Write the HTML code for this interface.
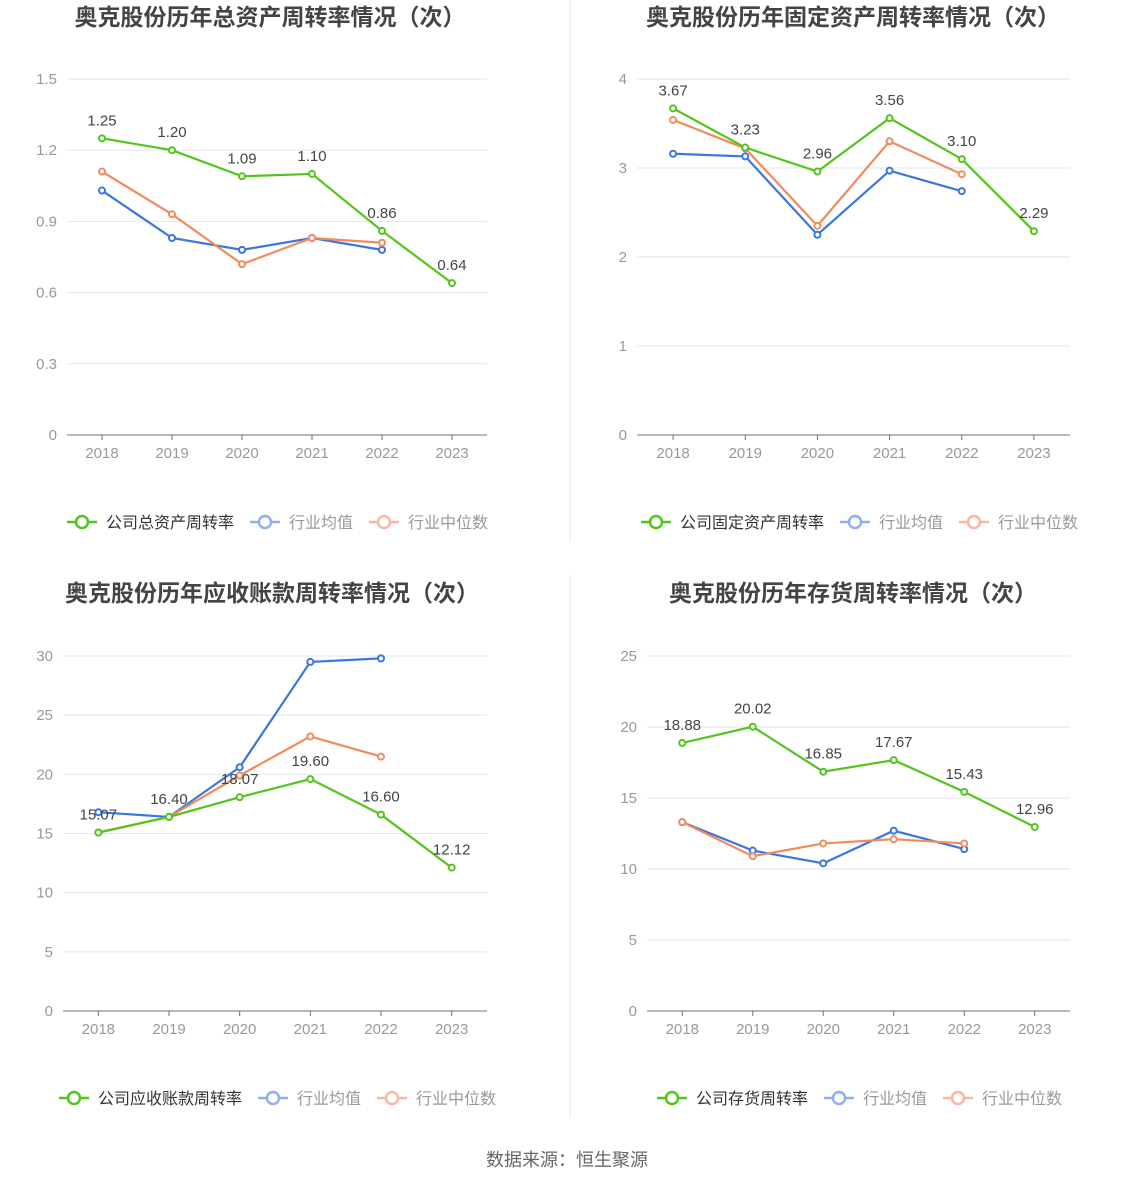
<!DOCTYPE html>
<html><head><meta charset="utf-8"><style>
html,body{margin:0;padding:0;background:#fff;}
svg{display:block;font-family:"Liberation Sans","Noto Sans CJK SC",sans-serif;}
</style></head><body>
<svg id="root" width="1134" height="1188" viewBox="0 0 1134 1188" xmlns="http://www.w3.org/2000/svg">
<line x1="570" y1="0" x2="570" y2="542" stroke="#e8e8e8"/>
<line x1="570" y1="575" x2="570" y2="1118" stroke="#e8e8e8"/>
<text x="567" y="1166" text-anchor="middle" font-size="18" fill="#666">数据来源：恒生聚源</text>
</svg>
<script>
const years = ["2018","2019","2020","2021","2022","2023"];
const c1Company = [1.25,1.20,1.09,1.10,0.86,0.64];
const c1Avg = [1.03,0.83,0.78,0.83,0.78];
const c1Median = [1.11,0.93,0.72,0.83,0.81];
const c1Ticks = [0,0.3,0.6,0.9,1.2,1.5];
const c2Company = [3.67,3.23,2.96,3.56,3.10,2.29];
const c2Avg = [3.16,3.13,2.25,2.97,2.74];
const c2Median = [3.54,3.22,2.35,3.30,2.93];
const c2Ticks = [0,1,2,3,4];
const c3Company = [15.07,16.40,18.07,19.60,16.60,12.12];
const c3Avg = [16.8,16.4,20.6,29.5,29.8];
const c3Median = [15.1,16.4,19.9,23.2,21.5];
const c3Ticks = [0,5,10,15,20,25,30];
const c4Company = [18.88,20.02,16.85,17.67,15.43,12.96];
const c4Avg = [13.3,11.3,10.4,12.7,11.4];
const c4Median = [13.3,10.9,11.8,12.1,11.8];
const c4Ticks = [0,5,10,15,20,25];

const NS="http://www.w3.org/2000/svg";
const root=document.getElementById('root');
function mk(tag,attrs,parent,text){const e=document.createElementNS(NS,tag);for(const k in attrs)e.setAttribute(k,attrs[k]);if(text!==undefined)e.textContent=text;(parent||root).appendChild(e);return e;}
const GREEN="#52c41a",BLUE="#3a76e0",ORANGE="#f28a5c";

function chart(o){
  const g=mk('g',{});
  
  
  const max=o.ticks[o.ticks.length-1];
  const ys=v=>o.y0-(o.y0-o.yTop)*v/max;
  const step=(o.x1-o.x0)/years.length;
  const xs=i=>o.x0+step*(i+0.5);
  const t=mk('text',{x:o.titleX,y:o.titleY,'text-anchor':'middle','font-size':23,'font-weight':'bold',fill:'#444'},g,o.title);
  
  
  o.ticks.forEach(v=>{
    const y=ys(v);
    if(v>0){const gl=mk('line',{x1:o.x0,x2:o.x1,y1:y,y2:y,stroke:'#e0e6f1'},g);
      
      }
    const tl=mk('text',{x:o.x0-10,y:y+5,'text-anchor':'end','font-size':15,fill:'#999'},g,String(v));
    
    
  });
  const ax=mk('line',{x1:o.x0,x2:o.x1,y1:o.y0,y2:o.y0,stroke:'#6e7079'},g);
  
  
  years.forEach((yr,i)=>{
    const tk=mk('line',{x1:xs(i),x2:xs(i),y1:o.y0,y2:o.y0+5,stroke:'#6e7079'},g);
    
    
    const xl=mk('text',{x:xs(i),y:o.y0+23,'text-anchor':'middle','font-size':15,fill:'#999'},g,yr);
    
    
  });
  function series(vals,color,nm,labels){
    const pts=vals.map((v,i)=>xs(i)+','+ys(v)).join(' ');
    const pl=mk('polyline',{points:pts,fill:'none',stroke:color,'stroke-width':2.2},g);
    
    
    vals.forEach((v,i)=>{
      const c=mk('circle',{cx:xs(i),cy:ys(v),r:3,fill:'#fff',stroke:color,'stroke-width':2},g);
      
      
      if(labels){const l=mk('text',{x:xs(i),y:ys(v)-13,'text-anchor':'middle','font-size':15,fill:'#444'},g,v.toFixed(2));
        
        }
    });
  }
  series(o.avg,BLUE,'industry-average',false);
  series(o.median,ORANGE,'industry-median',false);
  series(o.company,GREEN,'company',true);
  const items=[[o.legend,GREEN,'#333'],['行业均值','#8fb0f0','#999'],['行业中位数','#f8b9a0','#999']];
  let x=o.legX;
  items.forEach((it,k)=>{
    const lg=mk('g',{},g);
    
    
    mk('line',{x1:x,x2:x+30,y1:o.legY,y2:o.legY,stroke:it[1],'stroke-width':2.5},lg);
    mk('circle',{cx:x+15,cy:o.legY,r:6,fill:'#fff',stroke:it[1],'stroke-width':2.5},lg);
    mk('text',{x:x+39,y:o.legY+6,'font-size':16,fill:it[2]},lg,it[0]);
    x+=39+it[0].length*16+16;
  });
}
chart({name:'total-asset-turnover-chart',title:'奥克股份历年总资产周转率情况（次）',titleX:270,titleY:25,x0:67,x1:487,y0:435,yTop:79,ticks:c1Ticks,company:c1Company,avg:c1Avg,median:c1Median,legend:'公司总资产周转率',legX:67,legY:522});
chart({name:'fixed-asset-turnover-chart',title:'奥克股份历年固定资产周转率情况（次）',titleX:853,titleY:25,x0:637,x1:1070,y0:435,yTop:79,ticks:c2Ticks,company:c2Company,avg:c2Avg,median:c2Median,legend:'公司固定资产周转率',legX:641,legY:522});
chart({name:'receivables-turnover-chart',title:'奥克股份历年应收账款周转率情况（次）',titleX:272,titleY:601,x0:63,x1:487,y0:1011,yTop:656,ticks:c3Ticks,company:c3Company,avg:c3Avg,median:c3Median,legend:'公司应收账款周转率',legX:59,legY:1098});
chart({name:'inventory-turnover-chart',title:'奥克股份历年存货周转率情况（次）',titleX:853,titleY:601,x0:647,x1:1070,y0:1011,yTop:656,ticks:c4Ticks,company:c4Company,avg:c4Avg,median:c4Median,legend:'公司存货周转率',legX:657,legY:1098});
</script>
</body></html>
